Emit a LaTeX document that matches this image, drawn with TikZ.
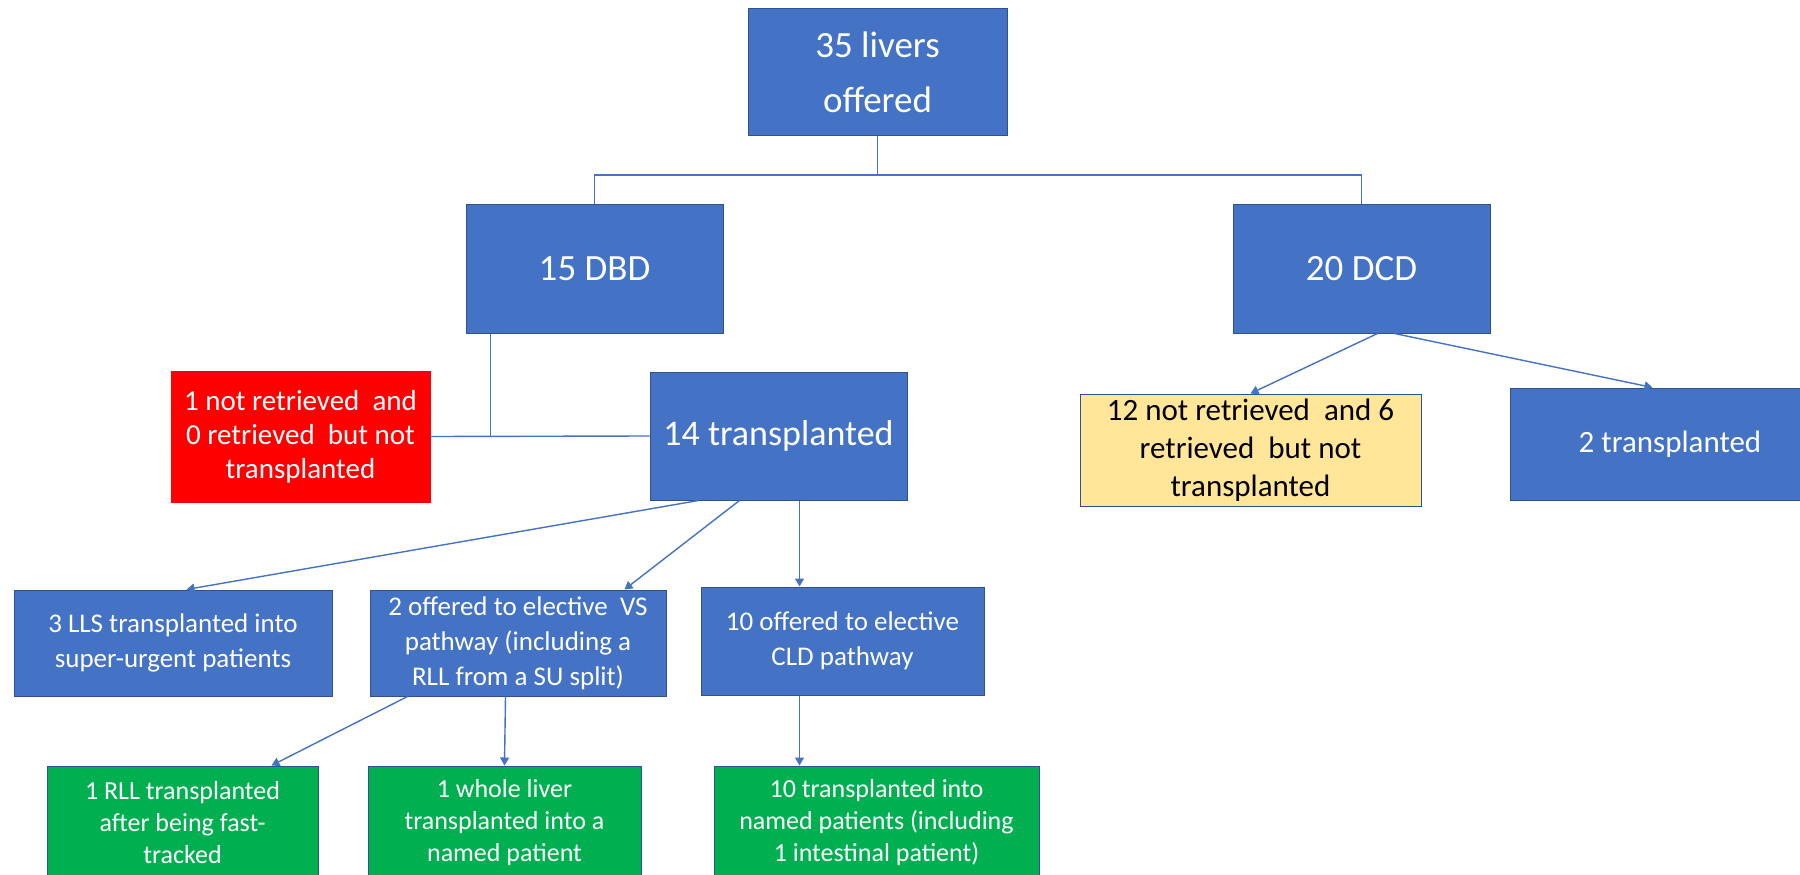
\documentclass[tikz,border=0pt]{standalone}
\usepackage{fontspec}
\setmainfont{Carlito}
\usetikzlibrary{arrows.meta,calc}
\definecolor{bblue}{HTML}{4472C4}
\definecolor{bdark}{HTML}{2F528F}
\definecolor{bred}{HTML}{FF0000}
\definecolor{byel}{HTML}{FFE699}
\definecolor{bgreen}{HTML}{00B050}
\begin{document}
\begin{tikzpicture}[x=1pt,y=-1pt,
  box/.style={draw=bdark, line width=1pt, align=center, inner sep=0pt, text=white, fill=bblue},
  bigtxt/.style={font=\fontsize{37}{55}\selectfont},
  midtxt/.style={font=\fontsize{29}{34}\selectfont},
  smalltxt/.style={font=\fontsize{27}{35}\selectfont},
  greentxt/.style={font=\fontsize{26}{32}\selectfont},
  conn/.style={draw=bblue, line width=1.4pt},
  arr/.style={conn, -{Triangle[width=9pt,length=8pt]}},
]
\clip (0,0) rectangle (1800,875);
\fill[white] (0,0) rectangle (1800,875);

% boxes
\node[box, bigtxt, minimum width=259pt, minimum height=126pt] (top) at (877.5,72) {35 livers\\offered};
\node[box, bigtxt, minimum width=257pt, minimum height=129pt] (dbd) at (594.5,268.5) {15 DBD};
\node[box, bigtxt, minimum width=257pt, minimum height=129pt] (dcd) at (1361.5,268.5) {20 DCD};
\node[box, midtxt, fill=bred, draw=bred, minimum width=259pt, minimum height=131pt] (red) at (300.5,436.5) {1 not retrieved\ \ and\\0 retrieved\ \ but not\\transplanted};
\node[box, bigtxt, font=\fontsize{36}{44}\selectfont, minimum width=257pt, minimum height=128pt] (t14) at (778.5,436) {14 transplanted};
\node[box, font=\fontsize{31}{38}\selectfont, fill=byel, text=black, minimum width=341pt, minimum height=112pt] (yel) at (1250.5,450) {12 not retrieved\ \ and 6\\retrieved\ \ but not\\transplanted};
\node[box, font=\fontsize{31}{38}\selectfont, minimum width=320pt, minimum height=112pt] (t2) at (1670,444) {2 transplanted};

\node[box, smalltxt, minimum width=318pt, minimum height=106pt] (lls) at (173,643) {3 LLS transplanted into\\super-urgent patients};
\node[box, smalltxt, minimum width=296pt, minimum height=106pt] (vs) at (518,643) {2 offered to elective\ \ VS\\pathway (including a\\RLL from a SU split)};
\node[box, smalltxt, minimum width=283pt, minimum height=108pt] (cld) at (842.5,641) {10 offered to elective\\CLD pathway};

\node[box, greentxt, fill=bgreen, minimum width=271pt, minimum height=114pt] (rll) at (182.5,823) {1 RLL transplanted\\after being fast-\\tracked};
\node[box, greentxt, fill=bgreen, minimum width=273pt, minimum height=114pt] (whole) at (504.5,823) {1 whole liver\\transplanted into a\\named patient};
\node[box, greentxt, fill=bgreen, minimum width=325pt, minimum height=114pt] (tin) at (876.5,823) {10 transplanted into\\named patients (including\\1 intestinal patient)};

% connectors top level
\coordinate (jtop) at ($(top.south)+(0,39.5)$);
\draw[conn] (top.south) -- (jtop);
\draw[conn] (jtop) -| (dbd.north);
\draw[conn] (jtop) -| (dcd.north);

% DBD branch
\coordinate (jdbd) at ([xshift=25pt]dbd.south west |- red.east);
\draw[conn] ([xshift=25pt]dbd.south west) -- (jdbd);
\draw[conn] (red.east) -- (t14.west);

% DCD arrows
\draw[arr] ([xshift=145pt]dcd.south west) -- (yel.north);
\draw[arr] ([xshift=162pt]dcd.south west) -- ([xshift=143pt]t2.north west);

% 14 transplanted arrows
\draw[arr] ([xshift=49pt]t14.south west) -- ([xshift=173pt]lls.north west);
\draw[arr] ([xshift=90pt]t14.south west) -- ([xshift=255pt]vs.north west);
\draw[arr] ([xshift=150pt]t14.south west) -- ([xshift=99pt]cld.north west);

% VS arrows
\draw[arr] ([xshift=38pt]vs.south west) -- ([xshift=225pt]rll.north west);
\draw[arr] ([xshift=136pt]vs.south west) -- (whole.north);

% CLD arrow
\draw[arr] ([xshift=99pt]cld.south west) -- ([xshift=86pt]tin.north west);
\end{tikzpicture}
\end{document}
